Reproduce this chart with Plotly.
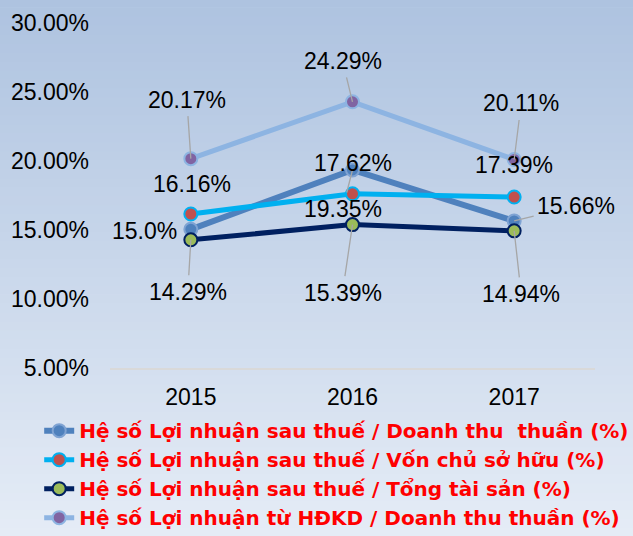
import plotly.graph_objects as go

years = [2015, 2016, 2017]
year_labels = ["2015", "2016", "2017"]
s1_name = "Hệ số Lợi nhuận sau thuế / Doanh thu \u00a0thuần (%)"
s2_name = "Hệ số Lợi nhuận sau thuế / Vốn chủ sở hữu (%)"
s3_name = "Hệ số Lợi nhuận sau thuế / Tổng tài sản (%)"
s4_name = "Hệ số Lợi nhuận từ HĐKD / Doanh thu thuần (%)"
s1_vals = [15.05, 19.35, 15.66]
s2_vals = [16.16, 17.62, 17.39]
s3_vals = [14.29, 15.39, 14.94]
s4_vals = [20.17, 24.29, 20.11]
s1_labels = ["15.0%", "19.35%", "15.66%"]
s2_labels = ["16.16%", "17.62%", "17.39%"]
s3_labels = ["14.29%", "15.39%", "14.94%"]
s4_labels = ["20.17%", "24.29%", "20.11%"]
y_ticks = [5, 10, 15, 20, 25, 30]
y_tick_labels = ["5.00%", "10.00%", "15.00%", "20.00%", "25.00%", "30.00%"]

FONT = "Liberation Sans, Arial, sans-serif"
LEGEND_FONT = "DejaVu Sans, Liberation Sans, Arial, sans-serif"

series = [
    (s1_name, s1_vals, "#4F81BD", "#4F81BD", "#7FA3D3", 6),
    (s2_name, s2_vals, "#00B0F0", "#C0504D", "#00B0F0", 5),
    (s3_name, s3_vals, "#002060", "#9BBB59", "#002060", 5),
    (s4_name, s4_vals, "#8DB4E2", "#8064A2", "#8DB4E2", 5),
]

fig = go.Figure()
for name, vals, lc, mc, mlc, lw in series:
    fig.add_trace(go.Scatter(
        x=years, y=vals, name=name, mode="lines+markers",
        line=dict(color=lc, width=lw),
        marker=dict(size=13, color=mc, line=dict(color=mlc, width=2)),
    ))

# data labels: (series values, labels, offsets (dx, dy, leader line?))
label_specs = [
    (s1_vals, s1_labels, [(-46, 2, False), (-10, 39, True), (62, -15, True)]),
    (s2_vals, s2_labels, [(1, -30, False), (0, -31, False), (0, -32, False)]),
    (s3_vals, s3_labels, [(-3, 52, True), (-10, 68, True), (7, 63, True)]),
    (s4_vals, s4_labels, [(-4, -59, True), (-10, -41, True), (7, -56, True)]),
]
for vals, labels, offs in label_specs:
    for xv, yv, lab, (ax, ay, lead) in zip(years, vals, labels, offs):
        if lead:
            fig.add_annotation(x=xv, y=yv, xref="x", yref="y", text=lab,
                               showarrow=True, ax=ax, ay=ay, axref="pixel",
                               ayref="pixel", arrowhead=0, arrowwidth=1.3,
                               arrowcolor="#A6A6A6", standoff=0, borderpad=3,
                               font=dict(family=FONT, size=23, color="#000000"))
        else:
            fig.add_annotation(x=xv, y=yv, xref="x", yref="y", text=lab,
                               showarrow=False, xshift=ax, yshift=-ay,
                               font=dict(family=FONT, size=23, color="#000000"))

# background vertical gradient
top = (174, 195, 224)
bot = (229, 236, 246)
N = 60
y0p, y1p = -0.49, 1.07
for i in range(N):
    t = i / (N - 1)
    c = tuple(int(round(bot[k] + (top[k] - bot[k]) * t)) for k in range(3))
    ya = y0p + (y1p - y0p) * i / N
    yb = y0p + (y1p - y0p) * (i + 1) / N + 0.002
    fig.add_shape(type="rect", xref="paper", yref="paper",
                  x0=-0.25, x1=1.1, y0=ya, y1=yb, layer="below",
                  line=dict(width=0), fillcolor="rgb(%d,%d,%d)" % c)

fig.update_layout(
    width=633, height=536,
    margin=dict(l=110, r=38, t=23, b=168, autoexpand=False),
    paper_bgcolor="rgb(229,236,246)",
    plot_bgcolor="rgba(0,0,0,0)",
    font=dict(family=FONT, size=23, color="#000000"),
    showlegend=True,
    legend=dict(
        x=-0.146, xanchor="left", y=-0.125, yanchor="top",
        bgcolor="rgba(0,0,0,0)",
        font=dict(family=LEGEND_FONT, size=20, color="#FF0000", weight="bold"),
        tracegroupgap=0, itemwidth=30,
    ),
    xaxis=dict(
        range=[2014.5, 2017.5], tickvals=years, ticktext=year_labels,
        showgrid=False, zeroline=False, automargin=False,
        showline=True, linecolor="#D9D9D9", linewidth=1.5,
        ticklabelstandoff=8,
        tickfont=dict(family=FONT, size=23, color="#000000"),
    ),
    yaxis=dict(
        range=[5, 30], tickvals=y_ticks, ticktext=y_tick_labels,
        showgrid=False, zeroline=False, showline=False, automargin=False,
        ticklabelstandoff=20,
        tickfont=dict(family=FONT, size=23, color="#000000"),
    ),
)

fig.write_html("out.html",
               config={"displayModeBar": False},
               post_script="document.body.style.margin='0px';"
                           "document.body.style.overflow='hidden';")
